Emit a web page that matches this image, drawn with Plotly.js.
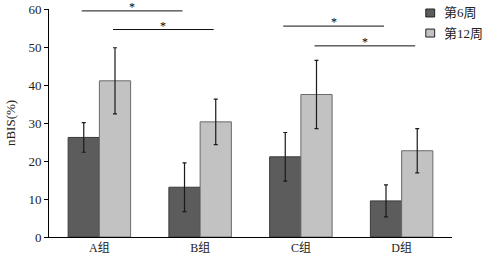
<!DOCTYPE html>
<html><head><meta charset="utf-8">
<script src="https://cdn.plot.ly/plotly-3.0.1.min.js"></script>
<style>html,body{margin:0;padding:0;background:#fff}#c{width:485px;height:259px}</style>
</head><body><div id="c"></div>
<script>
var categories = ["A组", "B组", "C组", "D组"];
var seriesNames = ["第6周", "第12周"];
var week6 = [26.2, 13.1, 21.1, 9.5];
var week6Err = [3.9, 6.4, 6.4, 4.2];
var week12 = [41.1, 30.3, 37.5, 22.7];
var week12Err = [8.7, 6.0, 9.0, 5.8];
var yTicks = [0, 10, 20, 30, 40, 50, 60];
// significance comparisons: [groupFrom, groupTo, seriesIndex, height]
var sigFrom = [0, 0, 2, 2];
var sigTo = [1, 1, 3, 3];
var sigSeries = [0, 1, 0, 1];
var sigHeight = [59.5, 54.6, 55.5, 50.3];

(function(){
var font = "Liberation Serif, Times New Roman, Noto Sans CJK SC, serif";
var barFrac = 0.31;
var xi = categories.map(function(_, i){return i;});
var fillColors = ["#5c5c5c", "#c2c2c2"];
var edgeColors = ["#3a3a3a", "#6a6a6a"];

var traces = [
  {type:"bar", name:seriesNames[0], x:xi, y:week6,
   marker:{color:fillColors[0], line:{color:edgeColors[0], width:1}},
   error_y:{type:"data", array:week6Err, visible:true, color:"#1a1a1a", thickness:1.2, width:2}},
  {type:"bar", name:seriesNames[1], x:xi, y:week12,
   marker:{color:fillColors[1], line:{color:edgeColors[1], width:1}},
   error_y:{type:"data", array:week12Err, visible:true, color:"#1a1a1a", thickness:1.2, width:2}}
];

var shapes = [], annotations = [];
for (var k = 0; k < sigFrom.length; k++) {
  var off = (sigSeries[k] === 0 ? -1 : 1) * barFrac / 2;
  var x0 = sigFrom[k] + off - 0.02, x1 = sigTo[k] + off - 0.02;
  shapes.push({type:"line", xref:"x", yref:"y", x0:x0, x1:x1, y0:sigHeight[k], y1:sigHeight[k],
               line:{color:"#111", width:1}});
  annotations.push({xref:"x", yref:"y", x:(x0+x1)/2, y:sigHeight[k], text:"*", showarrow:false,
               yanchor:"middle", yshift:4, font:{family:font, size:12, color:"#000000"}});
}

// manual legend (plot area: 403 x 228 px)
for (var s = 0; s < seriesNames.length; s++) {
  var yTop = 1.0 - s * 0.088;
  shapes.push({type:"rect", xref:"paper", yref:"paper", x0:0.935, x1:0.957, y0:yTop - 0.035, y1:yTop,
               fillcolor:fillColors[s], line:{color:"#222", width:1}});
  annotations.push({xref:"paper", yref:"paper", x:0.975, y:yTop - 0.0175, text:seriesNames[s],
               showarrow:false, xanchor:"left", yanchor:"middle",
               font:{family:font, size:13, color:"#222"}});
}

var layout = {
  width:485, height:259,
  margin:{l:49, r:33, t:9, b:22, pad:0},
  paper_bgcolor:"#fff", plot_bgcolor:"#fff",
  barmode:"group", bargap:0.38, bargroupgap:0,
  font:{family:font, size:12, color:"#222"},
  showlegend:false,
  xaxis:{range:[-0.5, 3.5], tickmode:"array", tickvals:xi, ticktext:categories,
         showline:true, linecolor:"#000", linewidth:1, ticks:"", showgrid:false, zeroline:false,
         tickfont:{family:font, size:12, color:"#222"}, fixedrange:true},
  yaxis:{range:[0, 60], tickmode:"array", tickvals:yTicks, showline:true, linecolor:"#000", linewidth:1,
         ticks:"outside", ticklen:4, tickcolor:"#000", showgrid:false, zeroline:false,
         tickfont:{family:font, size:13, color:"#222"},
         title:{text:"nBIS(%)", font:{family:font, size:13, color:"#222"}, standoff:9}},
  shapes:shapes, annotations:annotations
};
Plotly.newPlot("c", traces, layout, {displayModeBar:false, staticPlot:true});
})();
</script></body></html>
